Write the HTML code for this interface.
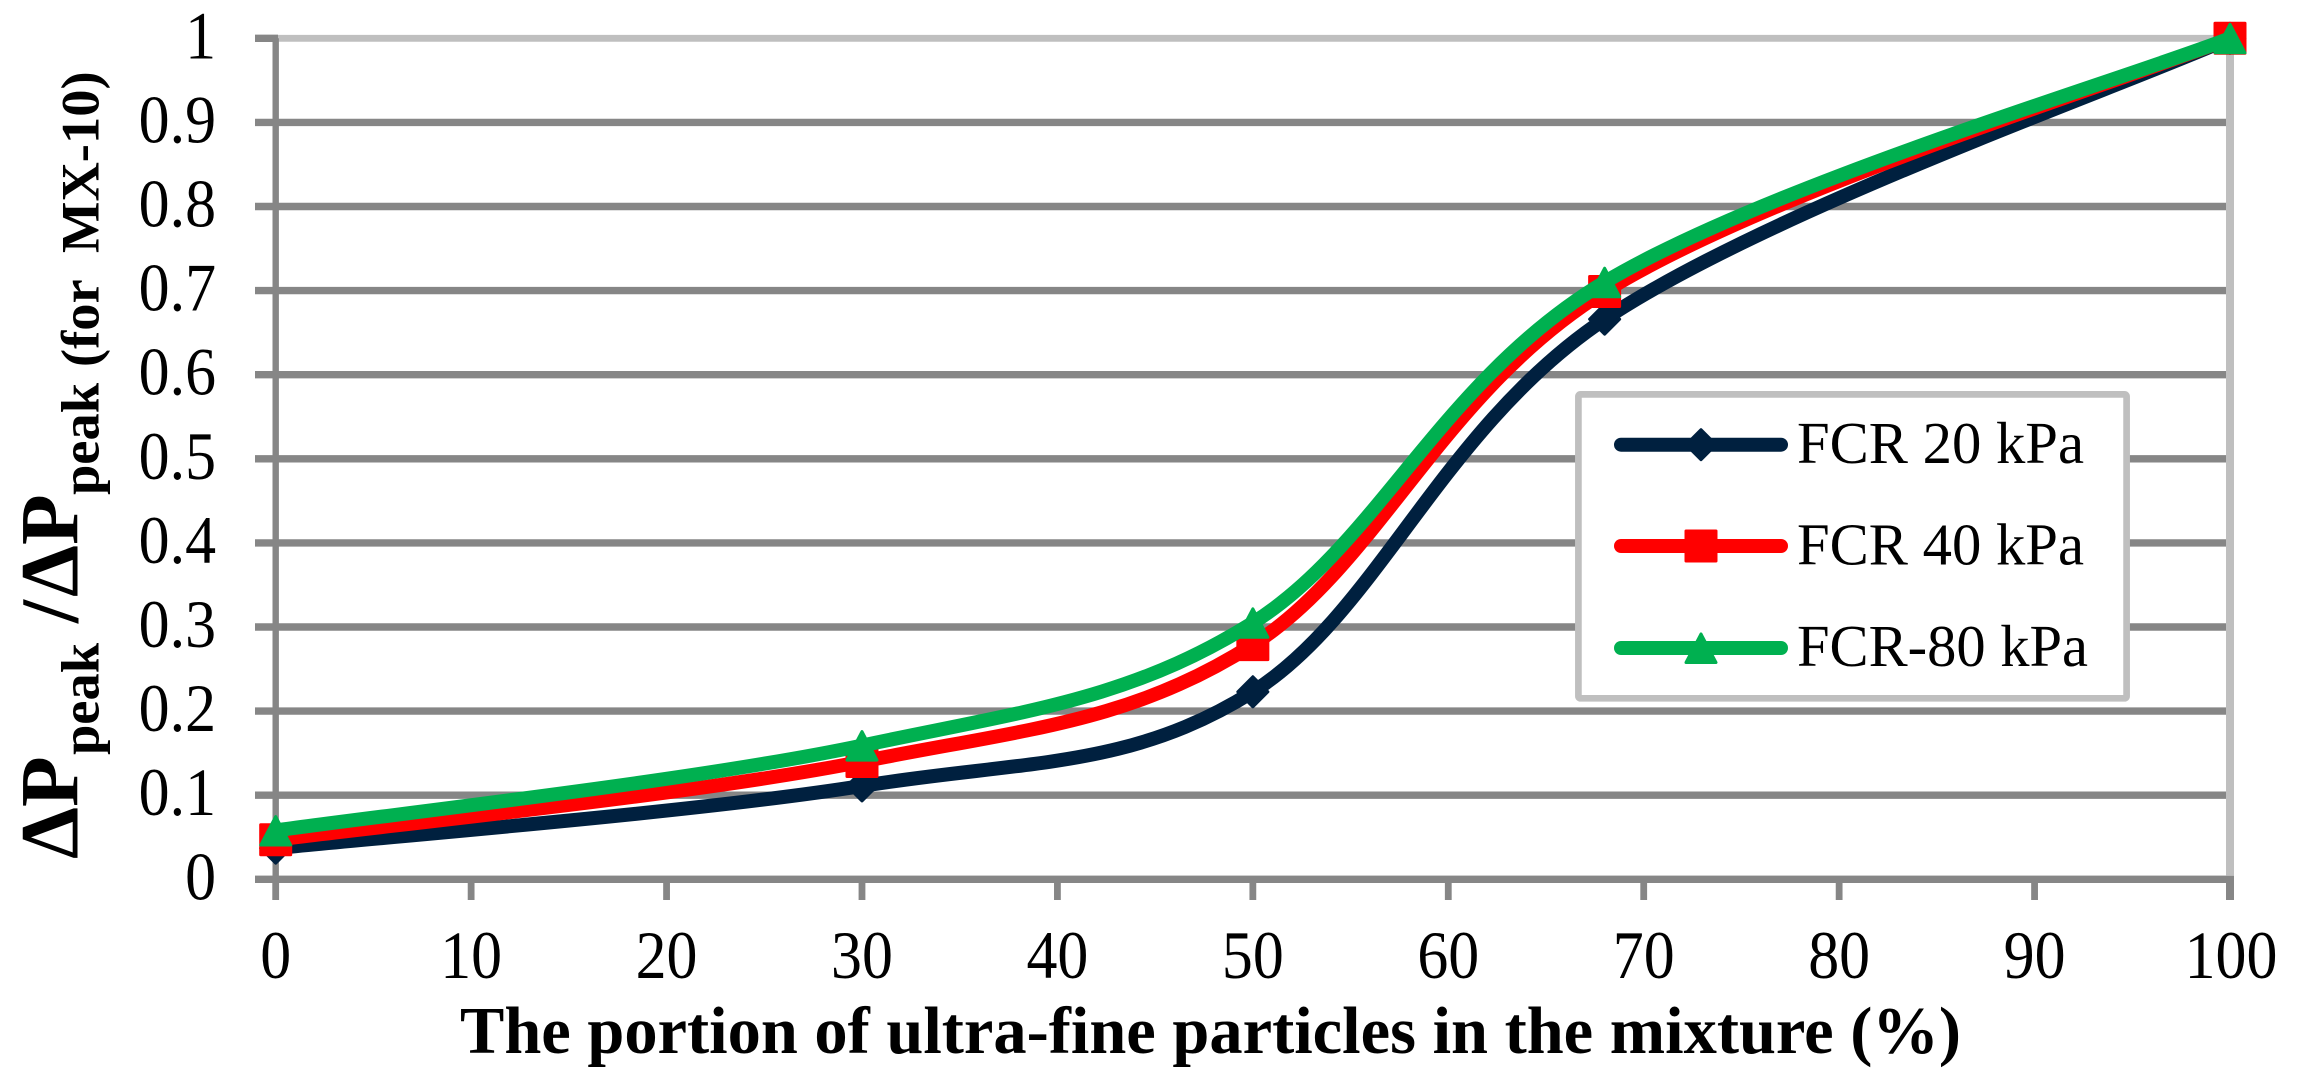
<!DOCTYPE html>
<html lang="en">
<head>
<meta charset="utf-8">
<title>Pressure drop ratio chart</title>
<style>
html,body{margin:0;padding:0;background:#fff;width:2300px;height:1091px;overflow:hidden}
svg{display:block}
text{font-family:"Liberation Serif",serif;fill:#000;white-space:pre}
</style>
</head>
<body>
<svg id="chart" xmlns="http://www.w3.org/2000/svg" width="2300" height="1091" viewBox="0 0 2300 1091">
  <g id="grid"></g>
  <g id="axes"></g>
  <g id="series"></g>
  <g id="legend">
    <rect x="1578.4" y="394.4" width="548.2" height="303.9" rx="2" fill="#fff" stroke="#BFBFBF" stroke-width="6.7"/>
  </g>
  <text x="460" y="1053" font-size="67" font-weight="bold" textLength="1501" lengthAdjust="spacingAndGlyphs">The portion of ultra-fine particles in the mixture (%)</text>
  <text transform="translate(77.5,859) rotate(-90)" font-size="83" font-weight="bold"><tspan x="0" y="0">ΔP</tspan><tspan x="104" y="21" font-size="54.5">peak</tspan><tspan x="236" y="0">/</tspan><tspan x="262" y="0">ΔP</tspan><tspan x="364" y="21" font-size="54.5">peak</tspan><tspan x="492" y="21" font-size="54.5">(for  MX-10)</tspan></text>
</svg>
<script>
var xCategories = [0, 30, 50, 68, 100];
var fcr20Values = [0.037, 0.111, 0.223, 0.666, 1];
var fcr40Values = [0.047, 0.140, 0.279, 0.699, 1];
var fcr80Values = [0.058, 0.159, 0.305, 0.710, 1];
var seriesNames = ['FCR 20 kPa', 'FCR 40 kPa', 'FCR-80 kPa'];
var xTickLabels = [0, 10, 20, 30, 40, 50, 60, 70, 80, 90, 100];
var yTickLabels = [0, 0.1, 0.2, 0.3, 0.4, 0.5, 0.6, 0.7, 0.8, 0.9, 1];

var NS = 'http://www.w3.org/2000/svg';
var X0 = 275.7, X1 = 2230, Y0 = 879.3, Y1 = 38.3;
function xScale(v) { return X0 + (v - 0) / 100 * (X1 - X0); }
function yScale(v) { return Y0 + (v - 0) / 1 * (Y1 - Y0); }
function make(tag, parent, attrs) {
  var el = document.createElementNS(NS, tag);
  for (var k in attrs) el.setAttribute(k, attrs[k]);
  parent.appendChild(el);
  return el;
}
var gridG = document.getElementById('grid');
var axesG = document.getElementById('axes');
var seriesG = document.getElementById('series');
var legendG = document.getElementById('legend');
var GRID = '#868686', LIGHT = '#BFBFBF';
var TW = 0.91;

yTickLabels.forEach(function (t) {
  var y = yScale(t);
  var isTop = t === 1;
  var g = make('line', gridG, { x1: 255, x2: isTop ? 278 : 2226, y1: y, y2: y, stroke: GRID, 'stroke-width': 7.4 });
  
  
  if (isTop) {
    var g2 = make('line', gridG, { x1: 278, x2: 2234, y1: y, y2: y, stroke: LIGHT, 'stroke-width': 6.8 });
    
    
  }
  var lab = make('text', axesG, { transform: 'translate(216,' + (y + 20) + ') scale(' + TW + ',1)', 'font-size': 68, 'text-anchor': 'end' });
  lab.textContent = String(t);
  
  
});

var rightAxis = make('line', axesG, { x1: X1, x2: X1, y1: Y1 - 3, y2: Y0, stroke: LIGHT, 'stroke-width': 8 });


var leftAxis = make('line', axesG, { x1: X0, x2: X0, y1: Y1, y2: 900, stroke: GRID, 'stroke-width': 6.4 });


var bottomAxis = make('line', axesG, { x1: 255, x2: 2234, y1: Y0, y2: Y0, stroke: GRID, 'stroke-width': 6.8 });



xTickLabels.forEach(function (t) {
  var x = xScale(t);
  var tick = make('line', axesG, { x1: x, x2: x, y1: Y0, y2: 900, stroke: GRID, 'stroke-width': t === 100 ? 8 : 6.8 });
  
  
  var lab = make('text', axesG, { transform: 'translate(' + (x + (t === 100 ? 1 : 0)) + ',978) scale(' + TW + ',1)', 'font-size': 68, 'text-anchor': 'middle' });
  lab.textContent = String(t);
  
  
});

function smoothPath(xs, ys) {
  var pts = xs.map(function (x, i) { return [xScale(x), yScale(ys[i])]; });
  var d = 'M' + pts[0][0] + ' ' + pts[0][1];
  for (var i = 0; i < pts.length - 1; i++) {
    var p0 = pts[Math.max(0, i - 1)], p1 = pts[i], p2 = pts[i + 1], p3 = pts[Math.min(pts.length - 1, i + 2)];
    var c1x = p1[0] + (p2[0] - p0[0]) / 6, c1y = p1[1] + (p2[1] - p0[1]) / 6;
    var c2x = p2[0] - (p3[0] - p1[0]) / 6, c2y = p2[1] - (p3[1] - p1[1]) / 6;
    d += ' C' + c1x + ' ' + c1y + ' ' + c2x + ' ' + c2y + ' ' + p2[0] + ' ' + p2[1];
  }
  return d;
}

function marker(kind, cx, cy, color, parent) {
  var w = 15, m;
  if (kind === 'diamond') {
    m = make('polygon', parent, { points: cx + ',' + (cy - 15) + ' ' + (cx + w) + ',' + cy + ' ' + cx + ',' + (cy + 15) + ' ' + (cx - w) + ',' + cy, fill: color, stroke: color, 'stroke-width': 3, 'stroke-linejoin': 'round' });
  } else if (kind === 'square') {
    m = make('rect', parent, { x: cx - w, y: cy - 15, width: 2 * w, height: 30, fill: color, stroke: color, 'stroke-width': 3, 'stroke-linejoin': 'round' });
  } else {
    m = make('polygon', parent, { points: cx + ',' + (cy - 14) + ' ' + (cx + w) + ',' + (cy + 14.5) + ' ' + (cx - w) + ',' + (cy + 14.5), fill: color, stroke: color, 'stroke-width': 3, 'stroke-linejoin': 'round' });
  }
  return m;
}

var seriesValues = [fcr20Values, fcr40Values, fcr80Values];
var seriesColors = ['#00203F', '#FF0000', '#00B050'];
var seriesMarkers = ['diamond', 'square', 'triangle'];
var seriesKeys = ['fcr-20', 'fcr-40', 'fcr-80'];

seriesValues.forEach(function (vals, s) {
  var line = make('path', seriesG, { d: smoothPath(xCategories, vals), fill: 'none', stroke: seriesColors[s], 'stroke-width': 14, 'stroke-linecap': 'round', 'stroke-linejoin': 'round' });
  
  
  vals.forEach(function (v, i) {
    var m = marker(seriesMarkers[s], xScale(xCategories[i]), yScale(v), seriesColors[s], seriesG);
    
    
  });
});

var legendRowY = [444.7, 546, 648];
var legendBase = [463, 564.5, 666];
var legendWidth = [287, 287, 291];
seriesNames.forEach(function (name, s) {
  var sw = make('line', legendG, { x1: 1621, x2: 1781, y1: legendRowY[s], y2: legendRowY[s], stroke: seriesColors[s], 'stroke-width': 14, 'stroke-linecap': 'round' });
  
  
  var mk = marker(seriesMarkers[s], 1701, legendRowY[s], seriesColors[s], legendG);
  
  
  var tx = make('text', legendG, { x: 1797, y: legendBase[s], 'font-size': 59, textLength: legendWidth[s], lengthAdjust: 'spacingAndGlyphs' });
  tx.textContent = name;
  
  
});
</script>
</body>
</html>
